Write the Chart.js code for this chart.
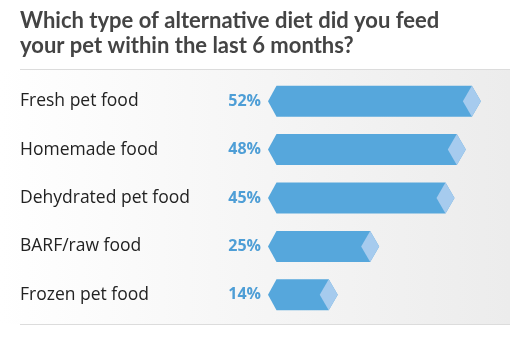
<!DOCTYPE html>
<html>
<head>
<meta charset="utf-8">
<script src="https://cdn.jsdelivr.net/npm/chart.js@4"></script>
<style>
  html, body { margin: 0; padding: 0; background: #fff; }
  #wrap { width: 524px; height: 340px; }
</style>
</head>
<body>
<div id="wrap"><canvas id="myChart" width="524" height="340"></canvas></div>
<script>
// values
const titleLines = ['Which type of alternative diet did you feed', 'your pet within the last 6 months?'];
const categories = ['Fresh pet food', 'Homemade food', 'Dehydrated pet food', 'BARF/raw food', 'Frozen pet food'];
const shares = [52, 48, 45, 25, 14];

const BAR_BLUE = '#56a7dc';
const TIP_BLUE = '#a6cbee';
const TEXT_BLUE = '#4e9ed6';
const FONT = "'Open Sans'";

// panel background, separator lines
const backdrop = {
  id: 'backdrop',
  beforeDraw: function(chart) {
    const ctx = chart.ctx;
    ctx.save();
    ctx.fillStyle = '#fff';
    ctx.fillRect(0, 0, chart.width, chart.height);
    const grad = ctx.createLinearGradient(0, 0, 510, 0);
    grad.addColorStop(0, '#ffffff');
    grad.addColorStop(1, '#ececec');
    ctx.fillStyle = grad;
    ctx.fillRect(0, 70, 510, 254);
    ctx.strokeStyle = '#dcdcdc';
    ctx.lineWidth = 1;
    ctx.beginPath();
    ctx.moveTo(20, 69.5); ctx.lineTo(510, 69.5);
    ctx.moveTo(20, 324.5); ctx.lineTo(510, 324.5);
    ctx.stroke();
    ctx.restore();
  }
};

// arrow shaped bars + percent labels
const arrowBars = {
  id: 'arrowBars',
  afterDatasetsDraw: function(chart) {
    const ctx = chart.ctx;
    const meta = chart.getDatasetMeta(0);
    ctx.save();
    meta.data.forEach((bar, i) => {
      const tip = bar.x, base = bar.base, y = bar.y;
      const half = bar.height / 2;
      ctx.fillStyle = BAR_BLUE;
      ctx.beginPath();
      ctx.moveTo(base - 17, y);
      ctx.lineTo(base - 8.5, y - half);
      ctx.lineTo(tip - 9, y - half);
      ctx.lineTo(tip, y);
      ctx.lineTo(tip - 9, y + half);
      ctx.lineTo(base - 8.5, y + half);
      ctx.closePath();
      ctx.fill();

      ctx.fillStyle = TIP_BLUE;
      ctx.beginPath();
      ctx.moveTo(tip - 18, y);
      ctx.lineTo(tip - 9, y - half);
      ctx.lineTo(tip, y);
      ctx.lineTo(tip - 9, y + half);
      ctx.closePath();
      ctx.fill();

      ctx.fillStyle = TEXT_BLUE;
      ctx.font = 'bold 16px ' + FONT;
      ctx.textAlign = 'right';
      ctx.textBaseline = 'middle';
      ctx.fillText(shares[i] + '%', base - 24, y);
    });
    ctx.restore();
  }
};

new Chart(document.getElementById('myChart'), {
  type: 'bar',
  data: {
    labels: categories,
    datasets: [{
      data: shares,
      backgroundColor: 'rgba(0,0,0,0)',
      barThickness: 31
    }]
  },
  options: {
    indexAxis: 'y',
    responsive: false,
    animation: false,
    layout: { padding: { left: 20, right: 13, top: 0, bottom: 21 } },
    plugins: {
      legend: { display: false },
      tooltip: { enabled: false },
      title: {
        display: true,
        text: titleLines,
        align: 'start',
        color: '#444',
        font: { family: 'Lato', size: 22, weight: 'bold', lineHeight: 25 / 22 },
        padding: { top: 8, bottom: 19 }
      }
    },
    scales: {
      x: { display: false, min: 0, max: 60 },
      y: {
        grid: { display: false },
        border: { display: false },
        ticks: {
          crossAlign: 'far',
          color: '#222',
          font: { family: FONT, size: 17.5 }
        },
        afterFit: function(scale) { scale.width = 265; }
      }
    }
  },
  plugins: [backdrop, arrowBars]
});
</script>
</body>
</html>
